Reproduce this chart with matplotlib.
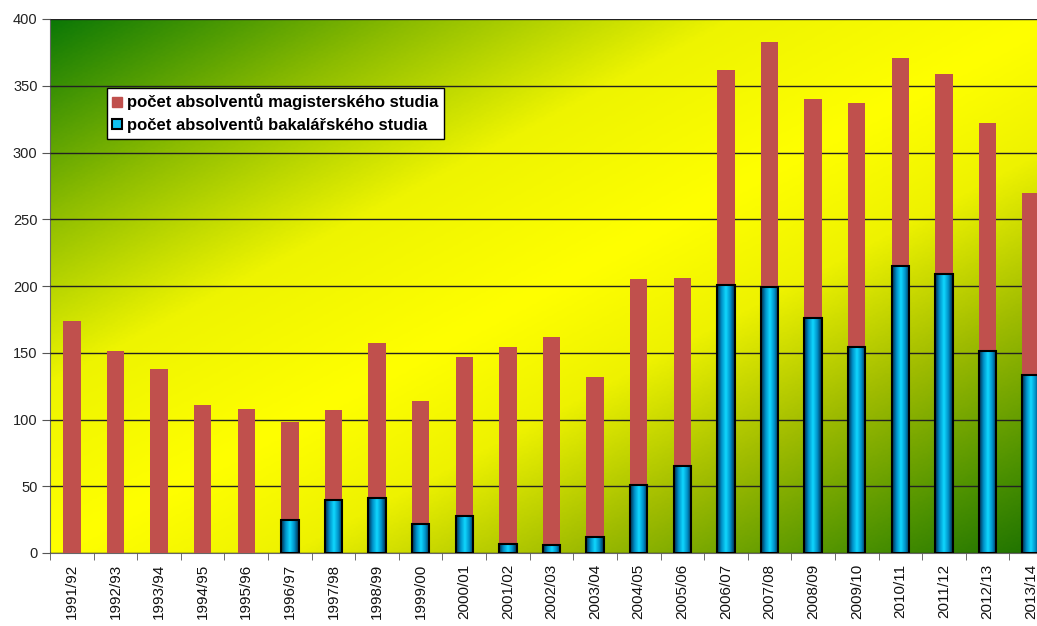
import numpy as np
import matplotlib
matplotlib.use('Agg')
import matplotlib.pyplot as plt
from matplotlib.colors import LinearSegmentedColormap
from matplotlib.lines import Line2D

years = ['1991/92', '1992/93', '1993/94', '1994/95', '1995/96', '1996/97',
         '1997/98', '1998/99', '1999/00', '2000/01', '2001/02', '2002/03',
         '2003/04', '2004/05', '2005/06', '2006/07', '2007/08', '2008/09',
         '2009/10', '2010/11', '2011/12', '2012/13', '2013/14']
# total height of each stacked bar
total = [174, 151, 138, 111, 108, 98, 107, 157, 114, 147, 154, 162,
         132, 205, 206, 362, 383, 340, 337, 371, 359, 322, 270]
bakalar = [0, 0, 0, 0, 0, 25, 40, 41, 22, 28, 7, 6,
           12, 51, 65, 201, 199, 176, 154, 215, 209, 151, 133]
magistr = [t - b for t, b in zip(total, bakalar)]

label_mag = 'počet absolventů magisterského studia'
label_bak = 'počet absolventů bakalářského studia'

plt.rcParams['font.family'] = ['Liberation Sans', 'DejaVu Sans']

fig = plt.figure(figsize=(10.37, 6.26), dpi=100)
ax = fig.add_axes([50 / 1037, 73 / 626, 1003 / 1037, 534 / 626])

n = len(years)
x = np.arange(n)
ax.set_xlim(-0.5, n - 0.5)
ax.set_ylim(0, 400)

# diagonal background: green corners, yellow band through the middle
bg_cmap = LinearSegmentedColormap.from_list('bg', [
    (0.0, '#0c7806'), (0.18, '#8cbc00'), (0.34, '#eef400'), (0.5, '#ffff00'),
    (0.62, '#eef200'), (0.76, '#a0bc00'), (0.9, '#4e9200'), (1.0, '#1a7000')])
gx, gy = np.meshgrid(np.linspace(0, 1, 400), np.linspace(1, 0, 300))
s = (gx + (1 - gy)) / 2
ax.imshow(s, extent=[-0.5, n - 0.5, 0, 400], aspect='auto', cmap=bg_cmap,
          vmin=0, vmax=1, origin='upper', zorder=0)

ax.yaxis.grid(True, color='#222222', linewidth=1.0, zorder=1)
ax.set_axisbelow(False)

width = 0.4
bak_bars = ax.bar(x, bakalar, width, facecolor='none', edgecolor='black',
                  linewidth=1.5, zorder=4)
cyl = LinearSegmentedColormap.from_list('cyl', [
    (0.0, '#002a48'), (0.25, '#0090c8'), (0.5, '#10d8ff'), (0.75, '#0090c8'),
    (1.0, '#002a48')])
grad = np.linspace(0, 1, 64).reshape(1, -1)
for rect in bak_bars:
    if rect.get_height() <= 0:
        rect.set_visible(False)
        continue
    x0, w, h = rect.get_x(), rect.get_width(), rect.get_height()
    im = ax.imshow(grad, extent=[x0, x0 + w, 0, h], aspect='auto', cmap=cyl,
                   zorder=3)
    im.set_clip_path(rect)
ax.bar(x, magistr, width, bottom=bakalar, color='#c0504d', zorder=3)

ax.set_yticks(np.arange(0, 401, 50))
ax.set_xticks(x)
ax.set_xticklabels(years, rotation=90, fontsize=11, color='#111111')
ax.set_xticks(np.arange(-0.5, n, 1), minor=True)
ax.tick_params(axis='x', which='major', length=0, pad=8)
ax.tick_params(axis='x', which='minor', length=5, color='#555555', direction='out')
ax.tick_params(axis='y', labelsize=10.5, length=6, color='#555555',
               labelcolor='#222222', pad=3)
for side in ['top', 'right']:
    ax.spines[side].set_visible(False)
ax.spines['left'].set_color('#666666')
ax.spines['bottom'].set_color('#666666')

handles = [
    Line2D([], [], marker='s', linestyle='none', markersize=7,
           markerfacecolor='#c0504d', markeredgecolor='#c0504d', label=label_mag),
    Line2D([], [], marker='s', linestyle='none', markersize=7,
           markerfacecolor='#10c0f0', markeredgecolor='black',
           markeredgewidth=1.5, label=label_bak),
]
leg = ax.legend(handles=handles, loc='upper left',
                bbox_to_anchor=(57 / 1003, (553 - 88) / 534), borderaxespad=0,
                frameon=True, fancybox=False, framealpha=1, edgecolor='black',
                handlelength=0.55, handletextpad=0.3, borderpad=0.35,
                labelspacing=0.35, prop={'weight': 'bold', 'size': 12})
leg.get_frame().set_linewidth(1.0)
leg.set_zorder(10)

fig.savefig('out.png', dpi=100)
